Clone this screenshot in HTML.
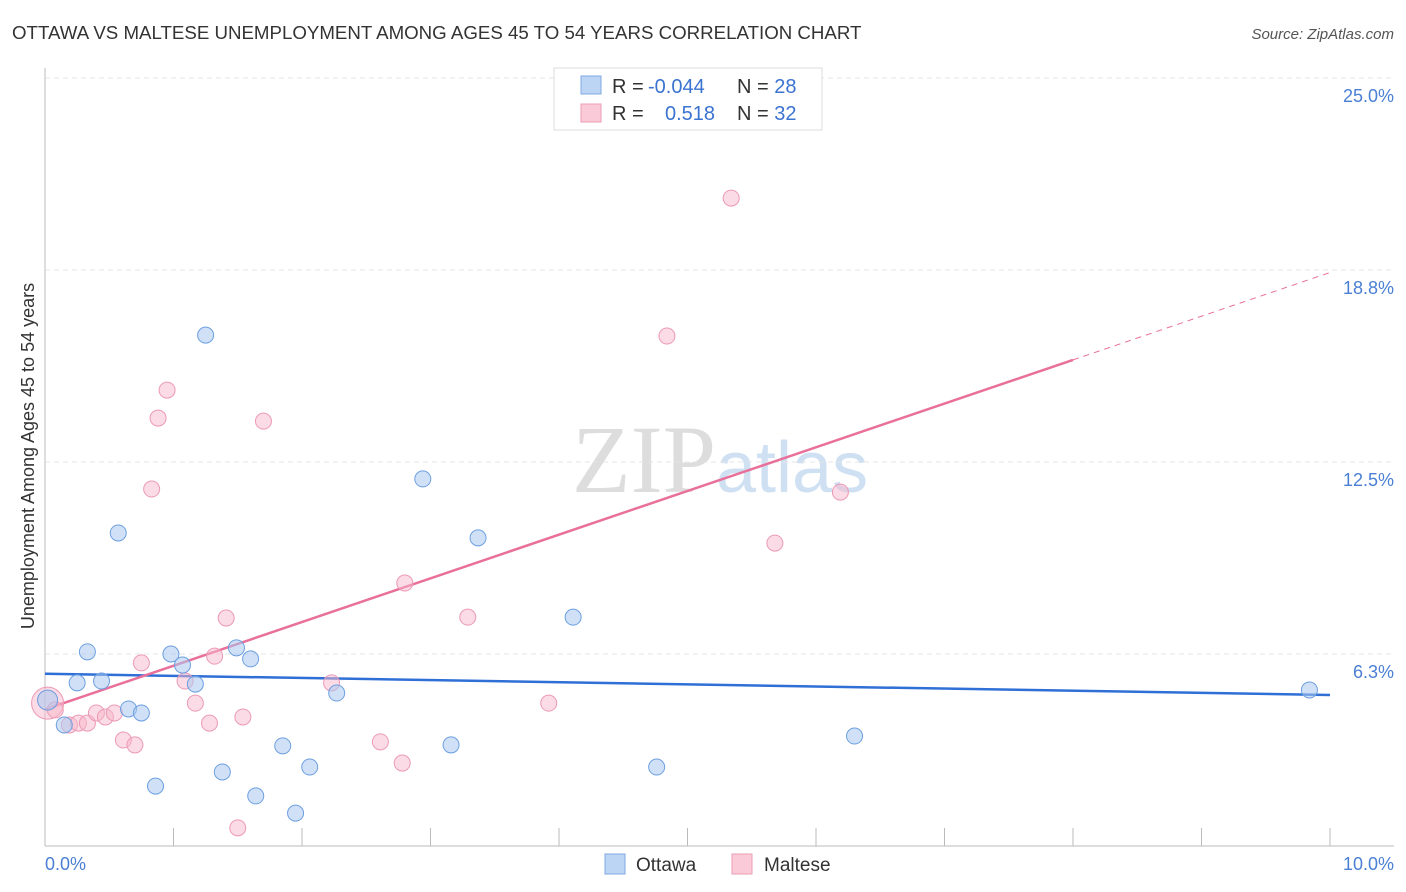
<!DOCTYPE html>
<html><head><meta charset="utf-8"><style>
body{margin:0;background:#fff;font-family:"Liberation Sans",sans-serif;}
svg{display:block}
</style></head><body>
<svg width="1406" height="892">
<text x="12" y="39" font-size="18.7" fill="#333">OTTAWA VS MALTESE UNEMPLOYMENT AMONG AGES 45 TO 54 YEARS CORRELATION CHART</text>
<text x="1394" y="39" font-size="15" fill="#555" font-style="italic" text-anchor="end">Source: ZipAtlas.com</text>
<text x="716" y="492" font-size="96" fill="#ddd" font-family="Liberation Serif,serif" text-anchor="end">ZIP</text>
<text x="716" y="492" font-size="72" fill="#cfe0f3">atlas</text>
<g id="grid"></g>
<g id="axes"></g>
<g id="lines"></g>
<g id="pts"></g>
<text transform="translate(34,456) rotate(-90)" font-size="18" fill="#333" text-anchor="middle">Unemployment Among Ages 45 to 54 years</text>
<text x="45" y="870" font-size="18" fill="#4a7fd4">0.0%</text>
<text x="1394" y="870" font-size="18" fill="#4a7fd4" text-anchor="end">10.0%</text>
<g>
<rect x="554" y="68" width="268" height="62" fill="#fff" stroke="#ddd"/>
<rect x="581" y="76" width="20" height="18" fill="#bdd5f5" stroke="#7fa9e3"/>
<rect x="581" y="104" width="20" height="18" fill="#fbcad8" stroke="#ee9cb6"/>
<text x="612" y="93" font-size="20" fill="#333">R = <tspan x="648" fill="#3a73d0">-0.044</tspan><tspan x="737">N = </tspan><tspan fill="#3a73d0">28</tspan></text>
<text x="612" y="120" font-size="20" fill="#333">R = <tspan x="665" fill="#3a73d0">0.518</tspan><tspan x="737">N = </tspan><tspan fill="#3a73d0">32</tspan></text>
</g>
<g>
<rect x="605" y="854" width="20" height="20" fill="#bdd5f5" stroke="#7fa9e3"/>
<text x="636" y="871" font-size="19" fill="#333">Ottawa</text>
<rect x="732" y="854" width="20" height="20" fill="#fbcad8" stroke="#ee9cb6"/>
<text x="764" y="871" font-size="19" fill="#333">Maltese</text>
</g>
</svg>
<script>
const yTicks=[6.25,12.5,18.75,25];
const yTickLabels=["6.3%","12.5%","18.8%","25.0%"];
const ottawaX=[0.02,0.15,0.25,0.33,0.44,0.57,0.65,0.75,0.86,0.98,1.07,1.17,1.25,1.38,1.49,1.60,1.64,1.85,1.95,2.06,2.27,2.94,3.16,3.37,4.11,4.76,6.30,9.84];
const ottawaY=[4.75,3.94,5.31,6.32,5.37,10.19,4.46,4.33,1.95,6.25,5.89,5.27,16.63,2.41,6.45,6.09,1.63,3.26,1.07,2.57,4.98,11.95,3.29,10.03,7.45,2.57,3.58,5.08];
const malteseX=[0.02,0.08,0.19,0.26,0.33,0.40,0.47,0.54,0.61,0.70,0.75,0.83,0.88,0.95,1.09,1.17,1.28,1.32,1.41,1.50,1.54,1.70,2.23,2.61,2.78,2.80,3.29,3.92,4.84,5.34,5.68,6.19];
const malteseY=[4.65,4.43,3.94,4.00,4.00,4.33,4.20,4.33,3.45,3.29,5.96,11.62,13.93,14.84,5.37,4.65,4.00,6.18,7.42,0.59,4.20,13.83,5.31,3.39,2.70,8.56,7.45,4.65,16.60,21.09,9.86,11.52];
const NS="http://www.w3.org/2000/svg";
const X=v=>45+v*128.5, Y=v=>846-v*30.72;
function mk(t,a,p){const e=document.createElementNS(NS,t);for(const k in a)e.setAttribute(k,a[k]);document.getElementById(p).appendChild(e);return e;}
yTicks.forEach((t,i)=>{
 const l=mk('line',{x1:45,x2:1394,y1:Y(t),y2:Y(t),stroke:'#e4e4e4','stroke-dasharray':'5,4'},'grid');
 
 
 const tx=mk('text',{x:1394,y:Y(t)+24,'font-size':18,fill:'#4a7fd4','text-anchor':'end'},'grid');
 tx.textContent=yTickLabels[i];
 
 
});
let ax=mk('line',{x1:45,x2:45,y1:68,y2:846,stroke:'#bbb'},'axes');


ax=mk('line',{x1:45,x2:1394,y1:846,y2:846,stroke:'#bbb'},'axes');


for(let i=1;i<=10;i++){const t=mk('line',{x1:X(i),x2:X(i),y1:828,y2:846,stroke:'#bbb'},'axes');
 
 }
function fit(xs,ys){const n=xs.length;let mx=0,my=0;xs.forEach((x,i)=>{mx+=x;my+=ys[i]});mx/=n;my/=n;let sxy=0,sxx=0;xs.forEach((x,i)=>{sxy+=(x-mx)*(ys[i]-my);sxx+=(x-mx)**2});const b=sxy/sxx;return [my-b*mx,b];}
const [oa,ob]=fit(ottawaX,ottawaY);
let ln=mk('line',{x1:X(0),y1:Y(oa),x2:X(10),y2:Y(oa+ob*10),stroke:'#2f6fd6','stroke-width':2.5},'lines');


const [ma,mb]=fit(malteseX,malteseY);
ln=mk('line',{x1:X(0),y1:Y(ma),x2:X(8),y2:Y(ma+mb*8),stroke:'#e8709a','stroke-width':2.5},'lines');


ln=mk('line',{x1:X(8),y1:Y(ma+mb*8),x2:X(10),y2:Y(ma+mb*10),stroke:'#e8709a','stroke-width':1,'stroke-dasharray':'6,5'},'lines');


malteseX.forEach((x,i)=>{const c=mk('circle',{cx:X(x),cy:Y(malteseY[i]),r:i==0?16:8,fill:'rgba(247,184,204,0.5)',stroke:'#ec9ab5','stroke-width':1},'pts');
 
 });
ottawaX.forEach((x,i)=>{const c=mk('circle',{cx:X(x),cy:Y(ottawaY[i]),r:i==0?10:8,fill:'rgba(169,200,240,0.55)',stroke:'#6c9fe0','stroke-width':1},'pts');
 
 });
</script>
</body></html>
